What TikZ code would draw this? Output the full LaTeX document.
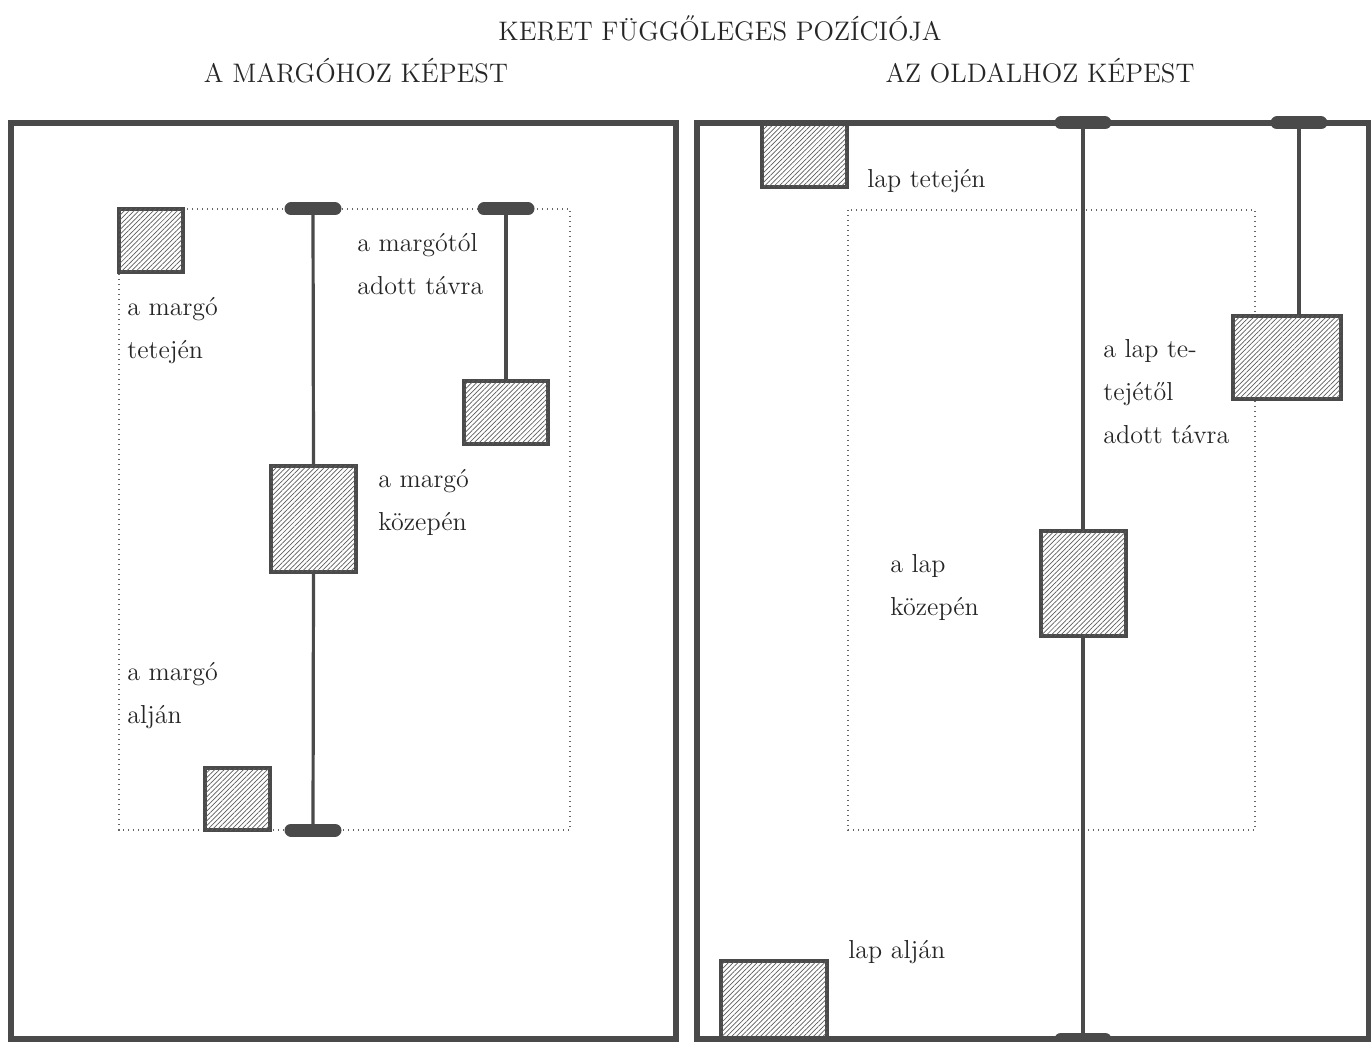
\documentclass[tikz,border=0pt]{standalone}
\usepackage{fontspec}
\usetikzlibrary{patterns.meta}
\definecolor{ink}{HTML}{4A4A4A}
\definecolor{txt}{HTML}{262626}
\begin{document}
\begin{tikzpicture}[x=0.5pt,y=-0.5pt,
  frame/.style={draw=ink,line width=3pt},
  margin/.style={draw=ink!85,line width=0.6pt,dash pattern=on 0.7pt off 1.8pt},
  stem/.style={draw=ink,line width=1.6pt},
  capbar/.style={draw=ink,line width=6.5pt,line cap=round},
  hbox/.style={draw=ink,line width=1.8pt,fill=white,inner sep=0pt,
    postaction={pattern={Lines[angle=45,distance=1.7pt,line width=0.35pt]},pattern color=ink!90}},
  lbl/.style={font=\fontsize{13}{21.5}\selectfont,text=txt,align=left,anchor=base west,inner sep=0pt},
  head/.style={font=\fontsize{13.4}{15}\selectfont,text=txt,inner sep=0pt}
]
\useasboundingbox (0,0) rectangle (1371,1042);

% headings
\node[head] (title) at (720,28) {KERET FÜGGŐLEGES POZÍCIÓJA};
\node[head] (subL) at (356,71) {A MARGÓHOZ KÉPEST};
\node[head] (subR) at (1040,71) {AZ OLDALHOZ KÉPEST};

% margin rectangles
\draw[margin] (119,209) rectangle (570,830);
\draw[margin] (848,210) rectangle (1255,830);

% cap coordinates
\coordinate (capA) at (313,209);
\coordinate (capAb) at (313,830);
\coordinate (capB) at (506,209);
\coordinate (capC) at (1083,123);
\coordinate (capCb) at (1083,1039);
\coordinate (capD) at (1299,123);

% boxes (left)
\node[hbox,minimum width=32pt,minimum height=31.5pt] (ltop) at (151,240.5) {};
\node[hbox,minimum width=42.5pt,minimum height=53pt] (lmid) at (313.5,519) {};
\node[hbox,minimum width=42pt,minimum height=31.5pt] (lright) at (506,412.5) {};
\node[hbox,minimum width=32.5pt,minimum height=31pt] (lbot) at (237.5,799) {};
% boxes (right)
\node[hbox,minimum width=42.5pt,minimum height=32pt] (rtop) at (804.5,155) {};
\node[hbox,minimum width=42.5pt,minimum height=52.5pt] (rmid) at (1083.5,583.5) {};
\node[hbox,minimum width=54pt,minimum height=41.5pt] (rright) at (1287,357.5) {};
\node[hbox,minimum width=53pt,minimum height=39pt] (rbot) at (774,1000) {};

% stems
\draw[stem] (capA) -- (lmid.north);
\draw[stem] (lmid.south) -- (capAb);
\draw[stem] (capB) -- (lright.north);
\draw[stem] (capC) -- (capC |- rmid.north);
\draw[stem] (capC |- rmid.south) -- (capCb);
\draw[stem] (capD) -- (capD |- rright.north);

% frames
\draw[frame] (11,123) rectangle (676,1039);
\draw[frame] (697,123) rectangle (1369,1039);

% caps
\foreach \c in {capA,capAb,capB,capC,capCb,capD}
  \draw[capbar] ([xshift=-11pt]\c) -- ([xshift=11pt]\c);

% labels (anchor = baseline of the last line)
\node[lbl] (t1) at (357,295) {a margótól\\adott távra};
\node[lbl] (t2) at (127,359) {a margó\\tetején};
\node[lbl] (t3) at (378,531) {a margó\\közepén};
\node[lbl] (t4) at (127,724) {a margó\\alján};
\node[lbl] (t5) at (867,188) {lap tetején};
\node[lbl] (t6) at (1103,444) {a lap te-\\tejétől\\adott távra};
\node[lbl] (t7) at (890,616) {a lap\\közepén};
\node[lbl] (t8) at (848,958) {lap alján};
\end{tikzpicture}
\end{document}
